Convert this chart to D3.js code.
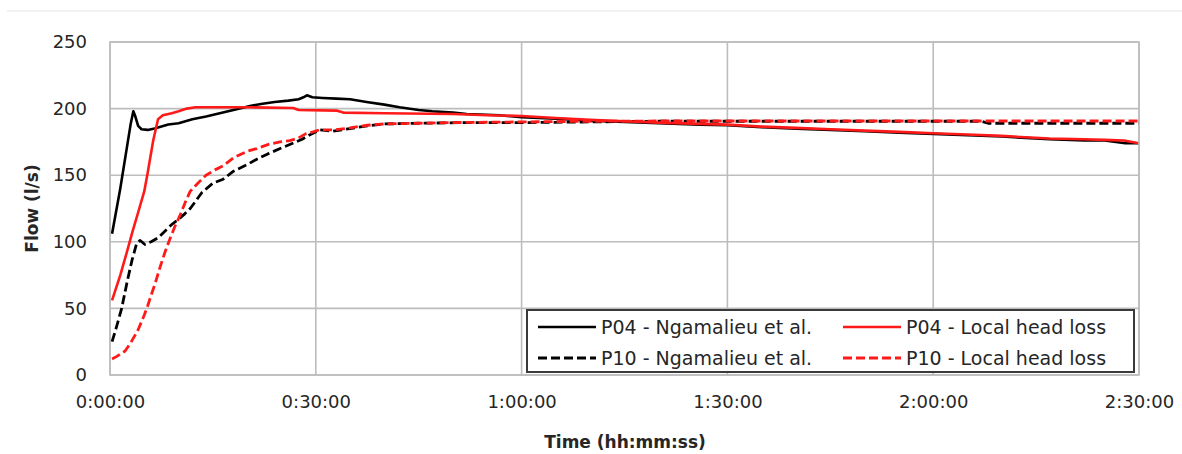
<!DOCTYPE html>
<html>
<head>
<meta charset="utf-8">
<script src="https://cdn.jsdelivr.net/npm/d3@7"></script>
<style>
  html, body { margin: 0; padding: 0; background: #fff; }
  svg { display: block; }
  text { font-family: "DejaVu Sans", sans-serif; fill: #262626; }
</style>
</head>
<body>
<svg id="chart" width="1182" height="454"></svg>
<script>
// ---- Data (time in minutes, flow in l/s) ----
const xTicks = [0, 30, 60, 90, 120, 150];
const yTicks = [0, 50, 100, 150, 200, 250];

const p04NgTime = [0.3, 1.5, 2.5, 3.0, 3.4, 3.7, 4.1, 4.6, 5.5, 6.5, 8.5, 10, 12, 14, 16, 18, 20.4, 22, 24, 26, 27.5, 28.2, 28.7, 29.5, 31, 33, 35, 37.4, 40, 42.2, 45, 47, 50, 52, 56.8, 60, 65, 70, 75, 80, 86, 90, 95, 100, 105, 110, 115, 120, 125, 130, 137, 142, 145, 148, 150];
const p04NgFlow = [106, 140, 172, 188, 198, 194, 187, 184.5, 184, 185, 188, 189, 192, 194, 196.5, 199, 202, 203.5, 205, 206, 207, 208.5, 210, 208.5, 208, 207.5, 207, 205, 203, 201, 199, 198, 197, 196, 195, 193.5, 192.5, 191, 190, 189, 188, 187.5, 186, 185, 184, 183, 182, 181, 180, 179, 177, 176, 176, 174, 174];

const p10NgTime = [0.3, 1.0, 1.7, 2.5, 3.2, 3.9, 4.4, 5.1, 6, 7, 8, 9, 10, 10.9, 11.7, 13.4, 15, 16.5, 18, 20, 21.4, 23, 24.8, 26.2, 28, 29, 30.6, 32.5, 35, 37.5, 40, 45, 52, 60, 70, 80, 90, 100, 110, 120, 127, 128, 140, 150];
const p10NgFlow = [25, 37, 50, 70, 86, 99, 101, 98, 100, 103, 108, 113, 117, 121, 125, 137, 144, 147, 153, 158, 162, 166, 170, 173, 177, 180, 184, 183, 185, 187, 188.5, 189, 189.5, 189.5, 190, 190.5, 190.5, 190.5, 190.5, 190.5, 190.5, 189, 189, 189];

const p04LocTime = [0.3, 1.5, 2.5, 3.3, 4.1, 5, 5.5, 6.3, 7, 7.7, 9, 10, 11.2, 12.5, 15, 20, 26.7, 27.5, 33, 34, 40, 50, 55, 60, 65, 70, 75, 80, 86, 90, 95, 100, 105, 110, 115, 120, 125, 130, 137, 142, 145, 147.8, 150];
const p04LocFlow = [56, 75, 93, 108, 122, 138, 152, 176, 192, 195, 196.5, 198, 200, 201, 201, 201, 200.5, 199, 198.5, 197, 196.5, 196, 195, 194.5, 193, 191.5, 190.5, 189.5, 188.5, 188, 186.5, 185.5, 184.5, 183.5, 182.5, 181.5, 180.5, 179.5, 177.5, 177, 176.5, 176, 174];

const p10LocTime = [0.3, 1.0, 2.2, 3.0, 4.1, 5, 5.5, 6, 6.6, 7.3, 8, 8.8, 9.5, 10.3, 11, 11.7, 12.8, 14, 15.3, 16.5, 18, 20, 21.4, 23, 24.8, 26.2, 27.5, 28.5, 29.6, 30.5, 32.5, 35, 37.5, 40, 45, 50, 60, 70, 80, 90, 100, 110, 120, 130, 140, 150];
const p10LocFlow = [12, 14, 18, 24, 34, 45, 52, 60, 69, 81, 92, 103, 112, 121, 130, 138, 144, 150, 154, 157, 163, 168, 170, 173, 175, 176, 178, 181, 182.5, 184, 184, 185.5, 187.5, 188.5, 189, 189.5, 190, 190.5, 190.7, 190.7, 190.7, 190.7, 190.7, 190.7, 190.7, 190.7];

const legendLabels = ["P04 - Ngamalieu et al.", "P10 - Ngamalieu et al.", "P04 - Local head loss", "P10 - Local head loss"];

// ---- Chart ----
const svg = d3.select("#chart");
const plotL = 110, plotR = 1139, plotT = 42, plotB = 375;
const x = d3.scaleLinear().domain([0, 150]).range([plotL, plotR]);
const y = d3.scaleLinear().domain([0, 250]).range([plotB, plotT]);

const fmtTime = m => {
  const h = Math.floor(m / 60), mm = m % 60;
  return h + ":" + String(mm).padStart(2, "0") + ":00";
};

// faint top rule
svg.append("line").attr("x1", 7).attr("x2", 1182).attr("y1", 11).attr("y2", 11)
  .attr("stroke", "#eeeeee").attr("stroke-width", 1.5);

const gridColor = "#bdbdbd";
svg.append("g").selectAll("line").data(yTicks).join("line")
  .attr("x1", plotL).attr("x2", plotR)
  .attr("y1", d => y(d)).attr("y2", d => y(d))
  .attr("stroke", gridColor).attr("stroke-width", 1.6);
svg.append("g").selectAll("line").data(xTicks).join("line")
  .attr("x1", d => x(d)).attr("x2", d => x(d))
  .attr("y1", plotT).attr("y2", plotB)
  .attr("stroke", gridColor).attr("stroke-width", 1.6);

// y axis labels
const yAxis = d3.axisLeft(y).tickValues(yTicks).tickSize(0).tickPadding(0);
const gy = svg.append("g").attr("transform", `translate(${plotL - 23},0)`).call(yAxis);
gy.select(".domain").remove();
gy.selectAll("text").attr("font-size", 18).attr("font-family", "DejaVu Sans, sans-serif").attr("fill", "#262626");

// x axis labels
const xAxis = d3.axisBottom(x).tickValues(xTicks).tickFormat(fmtTime).tickSize(0).tickPadding(0);
const gx = svg.append("g").attr("transform", `translate(0,${plotB + 20})`).call(xAxis);
gx.select(".domain").remove();
gx.selectAll("text").attr("font-size", 18).attr("font-family", "DejaVu Sans, sans-serif").attr("fill", "#262626");

// axis titles
svg.append("text").attr("x", 625).attr("y", 448).attr("text-anchor", "middle")
  .attr("font-size", 17).attr("font-weight", "bold").text("Time (hh:mm:ss)");
svg.append("text").attr("transform", `translate(38,${(plotT + plotB) / 2}) rotate(-90)`)
  .attr("text-anchor", "middle").attr("font-size", 17).attr("font-weight", "bold").text("Flow (l/s)");

// series
const series = [
  { t: p04NgTime, v: p04NgFlow, color: "#000000", dash: null, w: 2.6 },
  { t: p10NgTime, v: p10NgFlow, color: "#000000", dash: "9,4", w: 2.8 },
  { t: p04LocTime, v: p04LocFlow, color: "#ff1a1a", dash: null, w: 2.6 },
  { t: p10LocTime, v: p10LocFlow, color: "#ff1a1a", dash: "9,4", w: 2.8 }
];
const line = d3.line().x(d => x(d[0])).y(d => y(d[1]));
series.forEach(s => {
  const pts = s.t.map((t, i) => [t, s.v[i]]);
  svg.append("path").datum(pts)
    .attr("d", line).attr("fill", "none")
    .attr("stroke", s.color).attr("stroke-width", s.w)
    .attr("stroke-dasharray", s.dash)
    .attr("stroke-linejoin", "round");
});

// plot border
svg.append("rect").attr("x", plotL).attr("y", plotT).attr("width", plotR - plotL).attr("height", plotB - plotT)
  .attr("fill", "none").attr("stroke", gridColor).attr("stroke-width", 1.6);

// legend
const lg = svg.append("g");
lg.append("rect").attr("x", 527).attr("y", 310).attr("width", 607).attr("height", 62)
  .attr("fill", "#fff").attr("stroke", "#3a3a3a").attr("stroke-width", 2);
const legendPos = [
  { lx: 538, tx: 601, y: 327 },
  { lx: 538, tx: 601, y: 358 },
  { lx: 843, tx: 906, y: 327 },
  { lx: 843, tx: 906, y: 358 }
];
series.forEach((s, i) => {
  const p = legendPos[i];
  lg.append("line").attr("x1", p.lx).attr("x2", p.lx + 58).attr("y1", p.y).attr("y2", p.y)
    .attr("stroke", s.color).attr("stroke-width", s.w).attr("stroke-dasharray", s.dash);
  lg.append("text").attr("x", p.tx).attr("y", p.y).attr("dy", "0.36em")
    .attr("font-size", 19).text(legendLabels[i]);
});
</script>
</body>
</html>
